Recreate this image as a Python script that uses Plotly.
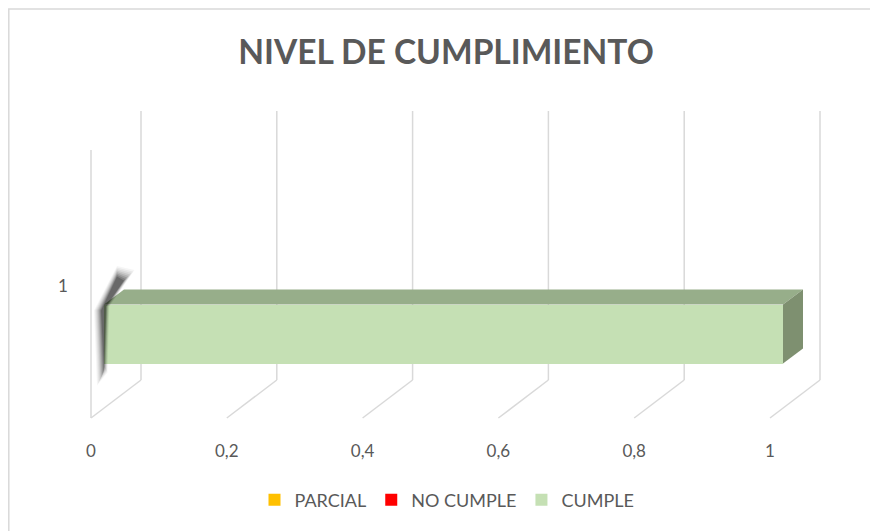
import plotly.graph_objects as go

# ---- data ----
categories = ["1"]
series_names = ["PARCIAL", "NO CUMPLE", "CUMPLE"]
parcial = [0]
no_cumple = [0]
cumple = [1]
x_ticks = [0, 0.2, 0.4, 0.6, 0.8, 1]
title_text = "NIVEL DE CUMPLIMIENTO"

colors = {"PARCIAL": "#FFC000", "NO CUMPLE": "#FF0000", "CUMPLE": "#C5E0B4"}
top_colors = {"PARCIAL": "#BF9000", "NO CUMPLE": "#BF0000", "CUMPLE": "#97AE8A"}
side_colors = {"PARCIAL": "#A67C00", "NO CUMPLE": "#A60000", "CUMPLE": "#7E9070"}

OFF = 8                       # page body margin
W, H = 878 - OFF, 531 - OFF   # figure size


def px(v):
    return v - OFF


PX0, PX1 = px(91), px(770)    # front floor: value 0 and 1
SCALE = PX1 - PX0
XR0 = -PX0 / SCALE
XR1 = XR0 + W / SCALE
WALL_DX = 50 / SCALE
WALL_DY = 38
FRONT_Y = px(418)
WALL_TOP = px(111)
LEFT_TOP = px(150)
BAR_OFF = 13 / SCALE
BAR_DX = 20 / SCALE
BAR_DY = 15
BAR_CY = px(334)
BAR_H = 59

fig = go.Figure()

shapes = []
grid_col = "#D9D9D9"
for t in x_ticks:
    shapes.append(dict(type="line", xref="x", yref="y", x0=t + WALL_DX, x1=t + WALL_DX,
                       y0=WALL_TOP, y1=FRONT_Y - WALL_DY, line=dict(color=grid_col, width=1.5), layer="below"))
    shapes.append(dict(type="line", xref="x", yref="y", x0=t + WALL_DX, x1=t,
                       y0=FRONT_Y - WALL_DY, y1=FRONT_Y, line=dict(color=grid_col, width=1.5), layer="below"))
shapes.append(dict(type="line", xref="x", yref="y", x0=0, x1=0, y0=LEFT_TOP, y1=FRONT_Y,
                   line=dict(color=grid_col, width=1.5), layer="below"))
# chart border (top & left visible)
shapes.append(dict(type="rect", xref="paper", yref="paper", x0=0.8 / W, x1=1.05, y0=-0.05, y1=1 - px(9) / H,
                   line=dict(color="#D9D9D9", width=1.5), layer="below"))

# soft shadow beside the zero-length segments
top_y = BAR_CY - BAR_H / 2
bot_y = BAR_CY + BAR_H / 2
for i, op in enumerate([0.04, 0.05, 0.06, 0.08, 0.1, 0.13, 0.16, 0.2]):
    s = 7 - i
    xl = BAR_OFF - (3 + s) / SCALE
    xr = BAR_OFF + (0.5 * s) / SCALE
    path = (f"M {xl + (16 + s) / SCALE},{top_y - 28 - 1.5*s} "
            f"L {xr + (20 + s) / SCALE},{top_y - 24 - 1.5*s} "
            f"L {xr + 2 / SCALE},{top_y + 2} "
            f"L {xr},{bot_y + 2 + s} "
            f"L {xl + 3 / SCALE},{bot_y + 8 + 2*s} "
            f"L {xl},{top_y + 6} Z")
    shapes.append(dict(type="path", xref="x", yref="y", path=path,
                       fillcolor=f"rgba(0,0,0,{op})", line=dict(width=0), layer="above"))

values = {"PARCIAL": parcial, "NO CUMPLE": no_cumple, "CUMPLE": cumple}
for name in series_names:
    fig.add_trace(go.Bar(
        name=name, y=[BAR_CY], x=values[name], orientation="h", width=BAR_H,
        marker=dict(color=colors[name], line=dict(width=0)), xaxis="x2", yaxis="y",
        hoverinfo="skip"))

cum = 0
for name in series_names:
    v = values[name][0]
    a, b = cum, cum + v
    cum = b
    if v <= 0:
        continue
    fig.add_trace(go.Scatter(
        x=[a, b, b + BAR_DX, a + BAR_DX, a], y=[top_y, top_y, top_y - BAR_DY, top_y - BAR_DY, top_y],
        fill="toself", fillcolor=top_colors[name], mode="lines", line=dict(width=0),
        xaxis="x2", yaxis="y", showlegend=False, hoverinfo="skip"))
    fig.add_trace(go.Scatter(
        x=[b, b + BAR_DX, b + BAR_DX, b, b], y=[top_y, top_y - BAR_DY, bot_y - BAR_DY, bot_y, top_y],
        fill="toself", fillcolor=side_colors[name], mode="lines", line=dict(width=0),
        xaxis="x2", yaxis="y", showlegend=False, hoverinfo="skip"))

fig.add_annotation(x=px(63) / W, y=1 - px(285) / H, xref="paper", yref="paper", text=categories[0],
                   xanchor="center", yanchor="middle",
                   showarrow=False, font=dict(family="Lato", size=17, color="#595959"))

fig.update_layout(
    width=W, height=H,
    margin=dict(l=0, r=0, t=0, b=0),
    paper_bgcolor="white", plot_bgcolor="white",
    separators=",.",
    barmode="stack",
    bargap=0,
    title=dict(text=title_text, x=0.5 + 3 / W, xanchor="center", y=1 - px(52) / H, yanchor="middle",
               font=dict(family="Lato", size=33.5, color="#595959", weight="bold")),
    xaxis=dict(range=[XR0, XR1], tickvals=x_ticks, ticktext=[f"{t:g}".replace(".", ",") for t in x_ticks],
               showgrid=False, zeroline=False, showline=False, ticks="",
               anchor="free", position=1 - px(437) / H, ticklabelstandoff=2,
               tickfont=dict(family="Lato", size=17, color="#595959"), fixedrange=True),
    xaxis2=dict(range=[XR0 - BAR_OFF, XR1 - BAR_OFF], overlaying="x", visible=False, fixedrange=True),
    yaxis=dict(range=[H, 0], visible=False, fixedrange=True),
    shapes=shapes,
    showlegend=True,
    legend=dict(orientation="h", x=0.5 + 4 / W, xanchor="center", y=1 - px(500) / H, yanchor="middle",
                font=dict(family="Lato", size=18, color="#595959"), traceorder="normal",
                itemwidth=30),
)

fig.write_html("out.html")
